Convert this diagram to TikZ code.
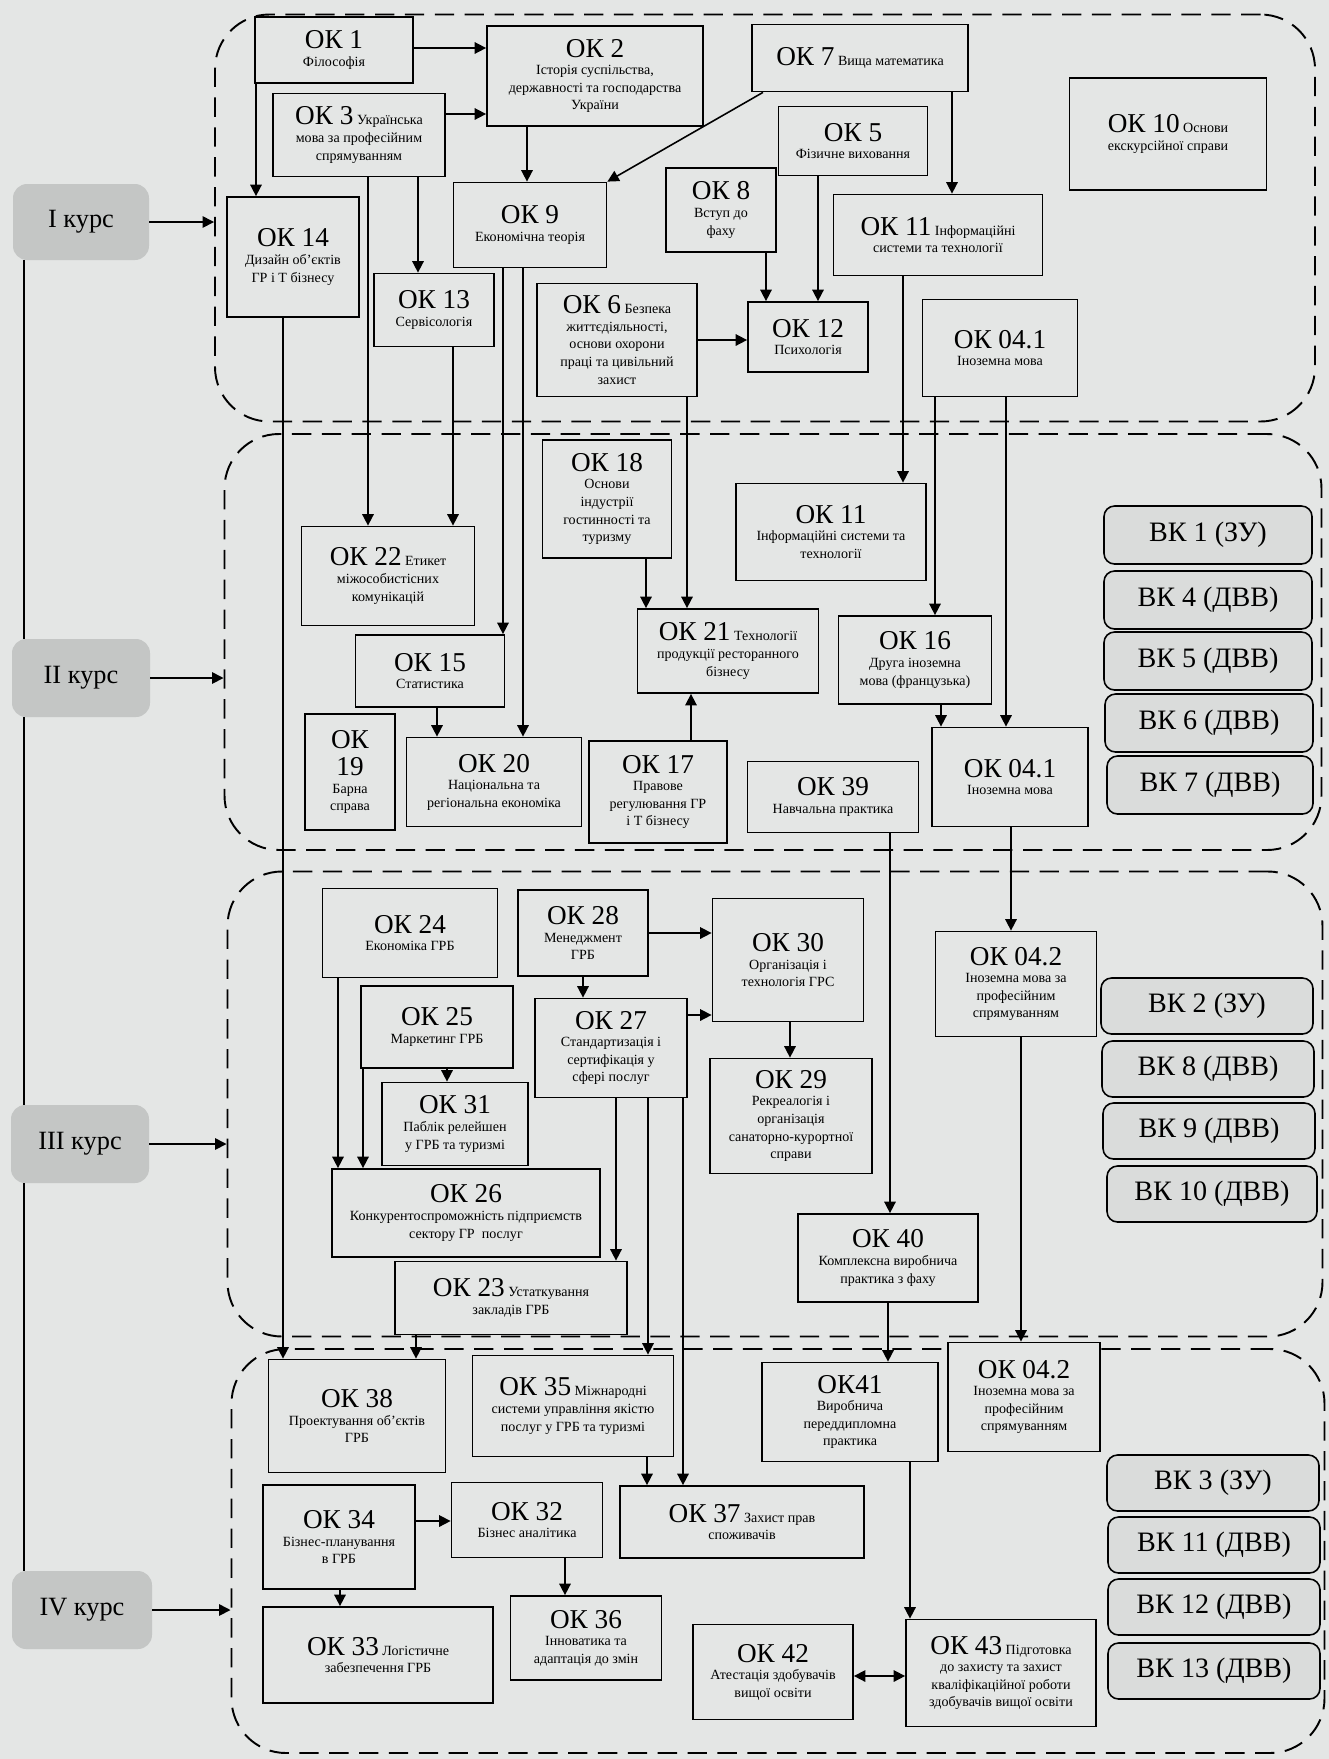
\documentclass[tikz,border=0pt]{standalone}
\usepackage{fontspec}
\setmainfont{Liberation Serif}
\usetikzlibrary{arrows.meta}
\definecolor{paper}{RGB}{228,230,229}
\definecolor{vkfill}{RGB}{218,220,219}
\definecolor{kursfill}{RGB}{196,198,197}
\newcommand{\ttl}[1]{{\fontsize{15.5pt}{16pt}\selectfont #1}}

\begin{document}
\begin{tikzpicture}[x=0.02cm, y=-0.02cm,
  sz/.style 2 args={minimum width=#1*0.02cm, minimum height=#2*0.02cm},
  ok/.style={draw, line width=1pt, fill=paper, inner sep=1pt, align=center, font=\fontsize{8pt}{10pt}\selectfont},
  vk/.style={draw, line width=0.9pt, fill=vkfill, rounded corners=6pt, font=\fontsize{16pt}{17pt}\selectfont},
  kurs/.style={fill=kursfill, rounded corners=8pt, font=\fontsize{15pt}{16pt}\selectfont},
  region/.style={draw, line width=1.1pt, dash pattern=on 11pt off 6pt, rounded corners=31pt},
  arr/.style={line width=0.9pt, -{Triangle[length=6.5pt,width=6.5pt]}},
  arr2/.style={line width=0.9pt, {Triangle[length=6.5pt,width=6.5pt]}-{Triangle[length=6.5pt,width=6.5pt]}}]
  \useasboundingbox (0,0) rectangle (1329,1759);
  \fill[paper] (0,0) rectangle (1329,1759);

  % semesters
  \node[region, sz={1100}{407}] (reg1) at (765,218) {};
  \node[region, sz={1097}{416}] (reg2) at (773,642) {};
  \node[region, sz={1095}{465}] (reg3) at (775,1104) {};
  \node[region, sz={1093}{404}] (reg4) at (778,1551) {};

  \node[kurs, sz={136}{76}] (k1) at (81,222) {I курс};
  \node[kurs, sz={138}{78}] (k2) at (81,678) {II курс};
  \node[kurs, sz={138}{78}] (k3) at (80,1144) {III курс};
  \node[kurs, sz={140}{78}] (k4) at (82,1610) {IV курс};
  \draw[line width=0.9pt] (k1.south -| 24,0) -- (k2.north -| 24,0);
  \draw[line width=0.9pt] (k2.south -| 24,0) -- (k3.north -| 24,0);
  \draw[line width=0.9pt] (k3.south -| 24,0) -- (k4.north -| 24,0);
  \draw[arr] (k1) -- (k1 -| reg1.west);
  \draw[arr] (k2) -- (k2 -| reg2.west);
  \draw[arr] (k3) -- (k3 -| reg3.west);
  \draw[arr] (k4) -- (k4 -| reg4.west);

  % I курс
  \node[ok, sz={158}{66}] (ok1) at (334,50) {\ttl{ОК 1}\\Філософія};
  \node[ok, sz={216}{100}] (ok2) at (595,76) {\ttl{ОК 2}\\Історія суспільства,\\державності та господарства\\України};
  \node[ok, sz={172}{83}] (ok3) at (359,135) {\ttl{ОК 3} Українська\\мова за професійним\\спрямуванням};
  \node[ok, sz={216}{67}] (ok7) at (860,58) {\ttl{ОК 7} Вища математика};
  \node[ok, sz={149}{69}] (ok5) at (853,141) {\ttl{ОК 5}\\Фізичне виховання};
  \node[ok, sz={110}{84}] (ok8) at (721,210) {\ttl{ОК 8}\\Вступ до\\фаху};
  \node[ok, sz={153}{85}] (ok9) at (530,225) {\ttl{ОК 9}\\Економічна теорія};
  \node[ok, sz={197}{112}] (ok10) at (1168,134) {\ttl{ОК 10} Основи\\екскурсійної справи};
  \node[ok, sz={209}{81}] (ok11a) at (938,235) {\ttl{ОК 11} Інформаційні\\системи та технології};
  \node[ok, sz={132}{120}] (ok14) at (293,257) {\ttl{ОК 14}\\Дизайн об'єктів\\ГР і Т бізнесу};
  \node[ok, sz={120}{73}] (ok13) at (434,310) {\ttl{ОК 13}\\Сервісологія};
  \node[ok, sz={160}{113}] (ok6) at (617,340) {\ttl{ОК 6} Безпека\\життєдіяльності,\\основи охорони\\праці та цивільний\\захист};
  \node[ok, sz={120}{70}] (ok12) at (808,337) {\ttl{ОК 12}\\Психологія};
  \node[ok, sz={155}{97}] (ok041a) at (1000,348) {\ttl{ОК 04.1}\\Іноземна мова};

  % II курс
  \node[ok, sz={129}{118}] (ok18) at (607,499) {\ttl{ОК 18}\\Основи\\індустрії\\гостинності та\\туризму};
  \node[ok, sz={190}{97}] (ok11b) at (831,532) {\ttl{ОК 11}\\Інформаційні системи та\\технології};
  \node[ok, sz={173}{99}] (ok22) at (388,576) {\ttl{ОК 22} Етикет\\міжособистісних\\комунікацій};
  \node[ok, sz={181}{84}] (ok21) at (728,651) {\ttl{ОК 21} Технології\\продукції ресторанного\\бізнесу};
  \node[ok, sz={153}{88}] (ok16) at (915,660) {\ttl{ОК 16}\\Друга іноземна\\мова (французька)};
  \node[ok, sz={149}{72}] (ok15) at (430,671) {\ttl{ОК 15}\\Статистика};
  \node[ok, sz={90}{116}] (ok19) at (350,772) {\ttl{ОК}\\[4pt]\ttl{19}\\Барна\\справа};
  \node[ok, sz={175}{89}] (ok20) at (494,782) {\ttl{ОК 20}\\Національна та\\регіональна економіка};
  \node[ok, sz={138}{102}] (ok17) at (658,792) {\ttl{ОК 17}\\Правове\\регулювання ГР\\і Т бізнесу};
  \node[ok, sz={171}{71}] (ok39) at (833,797) {\ttl{ОК 39}\\Навчальна практика};
  \node[ok, sz={156}{99}] (ok041b) at (1010,777) {\ttl{ОК 04.1}\\Іноземна мова};
  \node[vk, sz={208}{58}] (vk1) at (1208,535) {ВК 1 (ЗУ)};
  \node[vk, sz={208}{58}] (vk4) at (1208,600) {ВК 4 (ДВВ)};
  \node[vk, sz={208}{58}] (vk5) at (1208,661) {ВК 5 (ДВВ)};
  \node[vk, sz={208}{58}] (vk6) at (1209,723) {ВК 6 (ДВВ)};
  \node[vk, sz={206}{58}] (vk7) at (1210,785) {ВК 7 (ДВВ)};

  % III курс
  \node[ok, sz={175}{89}] (ok24) at (410,933) {\ttl{ОК 24}\\Економіка ГРБ};
  \node[ok, sz={130}{86}] (ok28) at (583,933) {\ttl{ОК 28}\\Менеджмент\\ГРБ};
  \node[ok, sz={151}{123}] (ok30) at (788,960) {\ttl{ОК 30}\\Організація і\\технологія ГРС};
  \node[ok, sz={161}{105}] (ok042a) at (1016,984) {\ttl{ОК 04.2}\\Іноземна мова за\\професійним\\спрямуванням};
  \node[ok, sz={152}{82}] (ok25) at (437,1027) {\ttl{ОК 25}\\Маркетинг ГРБ};
  \node[ok, sz={152}{99}] (ok27) at (611,1048) {\ttl{ОК 27}\\Стандартизація і\\сертифікація у\\сфері послуг};
  \node[ok, sz={162}{115}] (ok29) at (791,1116) {\ttl{ОК 29}\\Рекреалогія і\\організація\\санаторно-курортної\\справи};
  \node[ok, sz={146}{83}] (ok31) at (455,1124) {\ttl{ОК 31}\\Паблік релейшен\\у ГРБ та туризмі};
  \node[ok, sz={268}{88}] (ok26) at (466,1213) {\ttl{ОК 26}\\Конкурентоспроможність підприємств\\сектору ГР\ \ послуг};
  \node[ok, sz={180}{88}] (ok40) at (888,1258) {\ttl{ОК 40}\\Комплексна виробнича\\практика з фаху};
  \node[ok, sz={232}{73}] (ok23) at (511,1298) {\ttl{ОК 23} Устаткування\\закладів ГРБ};
  \node[vk, sz={212}{56}] (vk2) at (1207,1006) {ВК 2 (ЗУ)};
  \node[vk, sz={212}{56}] (vk8) at (1208,1069) {ВК 8 (ДВВ)};
  \node[vk, sz={212}{56}] (vk9) at (1209,1131) {ВК 9 (ДВВ)};
  \node[vk, sz={210}{56}] (vk10) at (1212,1194) {ВК 10 (ДВВ)};

  % IV курс
  \node[ok, sz={177}{113}] (ok38) at (357,1416) {\ttl{ОК 38}\\Проектування об'єктів\\ГРБ};
  \node[ok, sz={201}{101}] (ok35) at (573,1406) {\ttl{ОК 35} Міжнародні\\системи управління якістю\\послуг у ГРБ та туризмі};
  \node[ok, sz={176}{99}] (ok41) at (850,1412) {\ttl{ОК41}\\Виробнича\\переддипломна\\практика};
  \node[ok, sz={152}{109}] (ok042b) at (1024,1397) {\ttl{ОК 04.2}\\Іноземна мова за\\професійним\\спрямуванням};
  \node[ok, sz={152}{104}] (ok34) at (339,1537) {\ttl{ОК 34}\\Бізнес-планування\\в ГРБ};
  \node[ok, sz={151}{75}] (ok32) at (527,1520) {\ttl{ОК 32}\\Бізнес аналітика};
  \node[ok, sz={244}{72}] (ok37) at (742,1522) {\ttl{ОК 37} Захист прав\\споживачів};
  \node[ok, sz={230}{96}] (ok33) at (378,1655) {\ttl{ОК 33} Логістичне\\забезпечення ГРБ};
  \node[ok, sz={151}{84}] (ok36) at (586,1638) {\ttl{ОК 36}\\Інноватика та\\адаптація до змін};
  \node[ok, sz={160}{95}] (ok42) at (773,1672) {\ttl{ОК 42}\\Атестація здобувачів\\вищої освіти};
  \node[ok, sz={190}{107}] (ok43) at (1001,1673) {\ttl{ОК 43} Підготовка\\до захисту та захист\\кваліфікаційної роботи\\здобувачів вищої освіти};
  \node[vk, sz={212}{56}] (vk3) at (1213,1483) {ВК 3 (ЗУ)};
  \node[vk, sz={212}{56}] (vk11) at (1214,1545) {ВК 11 (ДВВ)};
  \node[vk, sz={212}{56}] (vk12) at (1214,1607) {ВК 12 (ДВВ)};
  \node[vk, sz={212}{56}] (vk13) at (1214,1671) {ВК 13 (ДВВ)};

  % зв'язки
  \draw[arr] (ok1.east |- 0,48) -- (ok2.west |- 0,48);
  \draw[arr] (ok3.east |- 0,114) -- (ok2.west |- 0,114);
  \draw[arr] (ok1.south -| 256,0) -- (ok14.north -| 256,0);
  \draw[arr] (ok2.south -| 527,0) -- (ok9.north -| 527,0);
  \draw[arr] (ok3.south -| 418,0) -- (ok13.north -| 418,0);
  \draw[arr] (ok3.south -| 368,0) -- (ok22.north -| 368,0);
  \draw[arr] (ok13.south -| 453,0) -- (ok22.north -| 453,0);
  \draw[arr] (ok14.south -| 283,0) -- (ok38.north -| 283,0);
  \draw[arr] (ok9.south -| 503,0) -- (ok15.north -| 503,0);
  \draw[arr] (ok9.south -| 523,0) -- (ok20.north -| 523,0);
  \draw[arr] (ok7.south west -| 763,0) -- (ok9.north east);
  \draw[arr] (ok7.south -| 952,0) -- (ok11a.north -| 952,0);
  \draw[arr] (ok8.south -| 766,0) -- (ok12.north -| 766,0);
  \draw[arr] (ok5.south -| 818,0) -- (ok12.north -| 818,0);
  \draw[arr] (ok6.east |- 0,340) -- (ok12.west |- 0,340);
  \draw[arr] (ok6.south -| 687,0) -- (ok21.north -| 687,0);
  \draw[arr] (ok11a.south -| 903,0) -- (ok11b.north -| 903,0);
  \draw[arr] (ok041a.south -| 935,0) -- (ok16.north -| 935,0);
  \draw[arr] (ok041a.south -| 1006,0) -- (ok041b.north -| 1006,0);

  \draw[arr] (ok18.south -| 646,0) -- (ok21.north -| 646,0);
  \draw[arr] (ok15.south -| 437,0) -- (ok20.north -| 437,0);
  \draw[arr] (ok17.north -| 691,0) -- (ok21.south -| 691,0);
  \draw[arr] (ok16.south -| 941,0) -- (ok041b.north -| 941,0);
  \draw[arr] (ok39.south -| 890,0) -- (ok40.north -| 890,0);
  \draw[arr] (ok041b.south -| 1011,0) -- (ok042a.north -| 1011,0);

  \draw[arr] (ok28.south -| 583,0) -- (ok27.north -| 583,0);
  \draw[arr] (ok28.east |- 0,933) -- (ok30.west |- 0,933);
  \draw[arr] (ok27.east |- 0,1015) -- (ok30.west |- 0,1015);
  \draw[arr] (ok30.south -| 790,0) -- (ok29.north -| 790,0);
  \draw[arr] (ok25.south -| 447,0) -- (ok31.north -| 447,0);
  \draw[arr] (ok24.south -| 338,0) -- (ok26.north -| 338,0);
  \draw[arr] (ok25.south -| 363,0) -- (ok26.north -| 363,0);
  \draw[arr] (ok27.south -| 616,0) -- (ok23.north -| 616,0);
  \draw[arr] (ok27.south -| 648,0) -- (ok35.north -| 648,0);
  \draw[arr] (ok27.south -| 683,0) -- (ok37.north -| 683,0);
  \draw[arr] (ok40.south -| 888,0) -- (ok41.north -| 888,0);
  \draw[arr] (ok042a.south -| 1021,0) -- (ok042b.north -| 1021,0);
  \draw[arr] (ok23.south -| 416,0) -- (ok38.north -| 416,0);

  \draw[arr] (ok35.south -| 647,0) -- (ok37.north -| 647,0);
  \draw[arr] (ok34.east |- 0,1521) -- (ok32.west |- 0,1521);
  \draw[arr] (ok34.south -| 340,0) -- (ok33.north -| 340,0);
  \draw[arr] (ok32.south -| 565,0) -- (ok36.north -| 565,0);
  \draw[arr] (ok41.south -| 910,0) -- (ok43.north -| 910,0);
  \draw[arr2] (ok42.east |- 0,1676) -- (ok43.west |- 0,1676);
\end{tikzpicture}
\end{document}
